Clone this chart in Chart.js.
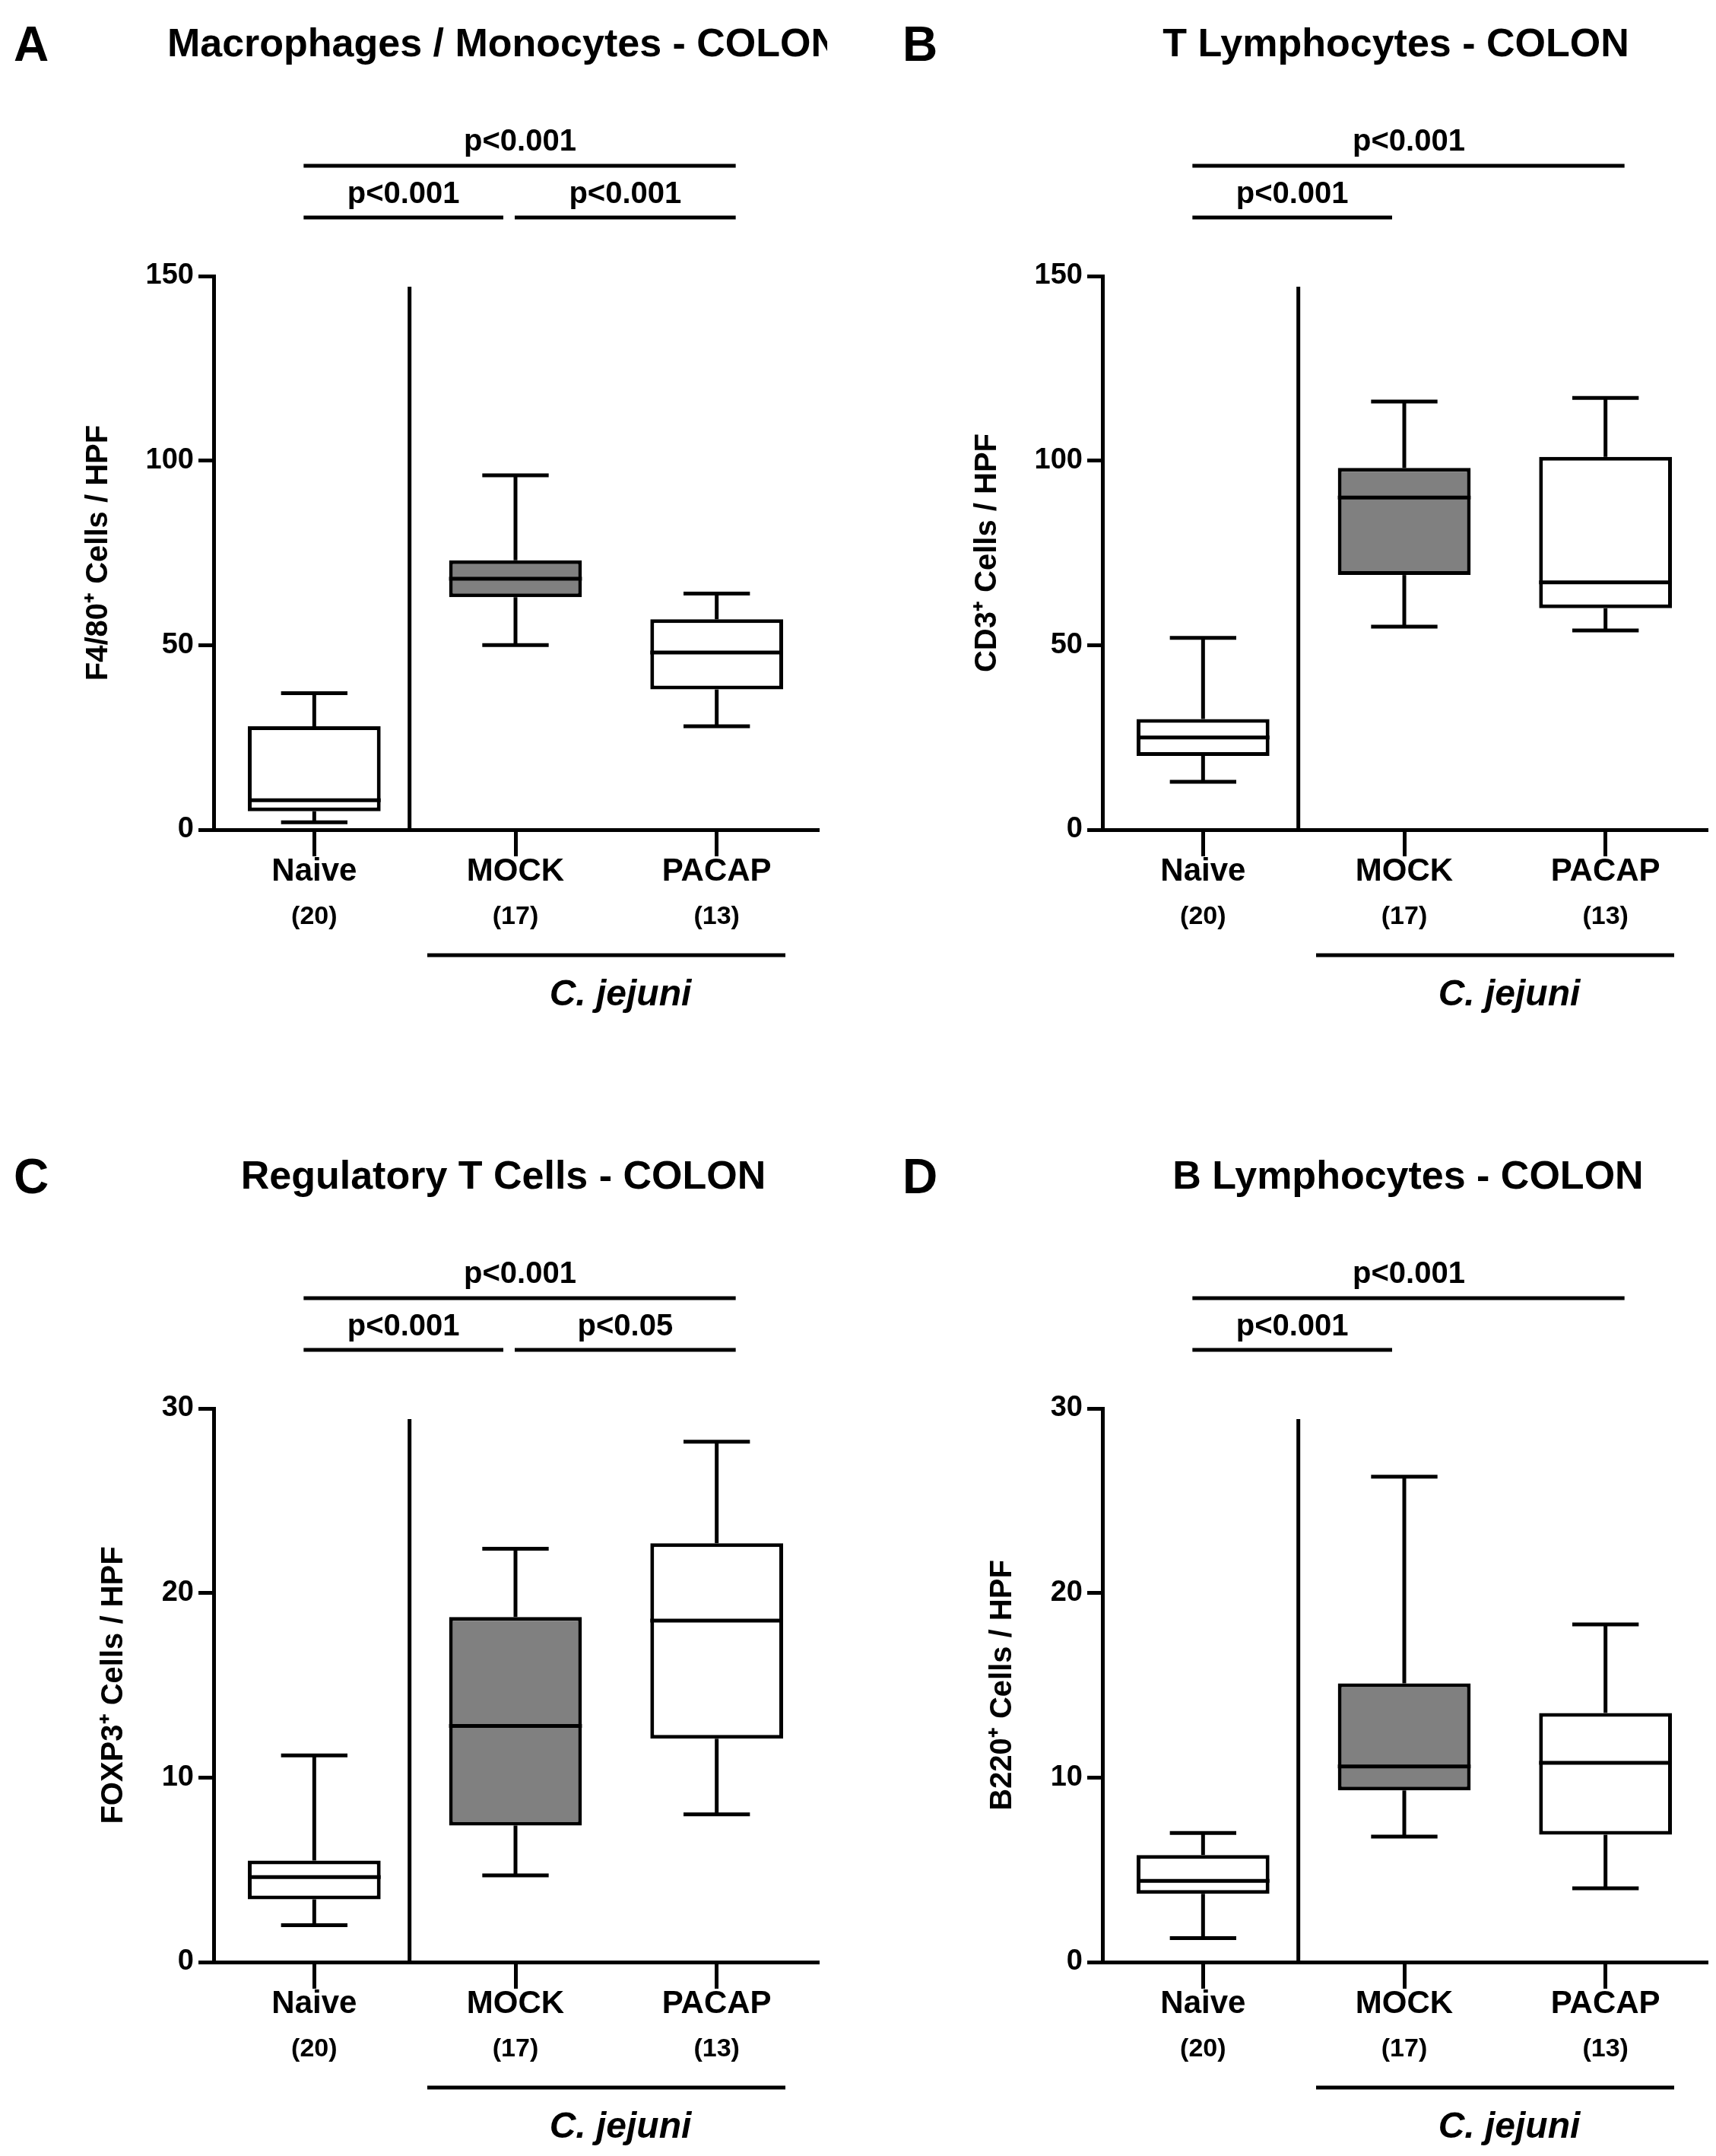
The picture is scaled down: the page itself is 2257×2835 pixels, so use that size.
<!DOCTYPE html>
<html>
<head>
<meta charset="utf-8">
<script src="https://cdn.jsdelivr.net/npm/chart.js@4.4.0/dist/chart.umd.min.js"></script>
<style>
  body { margin: 0; background: #fff; width: 2257px; height: 2835px; position: relative; overflow: hidden; }
  canvas { position: absolute; }
</style>
</head>
<body>
<canvas id="cA" width="1088" height="1340" style="left:0;top:0"></canvas>
<canvas id="cB" width="1088" height="1340" style="left:1169px;top:0"></canvas>
<canvas id="cC" width="1088" height="1340" style="left:0;top:1489px"></canvas>
<canvas id="cD" width="1088" height="1340" style="left:1169px;top:1489px"></canvas>
<script>
const groups = ['Naive', 'MOCK', 'PACAP'];
const counts = ['(20)', '(17)', '(13)'];
const fills = ['#ffffff', '#808080', '#ffffff'];

// box stats per group: [low whisker, q1, median, q3, high whisker]
const macroStats = [[2, 5, 8, 28, 37], [50, 63, 68, 73, 96], [28, 38, 48, 57, 64]];
const tcellStats = [[13, 20, 25, 30, 52], [55, 69, 90, 98, 116], [54, 60, 67, 101, 117]];
const tregStats = [[2, 3.4, 4.6, 5.5, 11.2], [4.7, 7.4, 12.8, 18.7, 22.4], [8, 12.1, 18.5, 22.7, 28.2]];
const bcellStats = [[1.3, 3.7, 4.4, 5.8, 7], [6.8, 9.3, 10.6, 15.1, 26.3], [4, 6.9, 10.8, 13.5, 18.3]];

const FONT = '"Liberation Sans", Arial, sans-serif';
const LW = 5;

const boxPlugin = {
  id: 'boxes',
  afterDatasetsDraw(chart, args, opts) {
    const ctx = chart.ctx, x = chart.scales.x, y = chart.scales.y;
    const meta = chart.getDatasetMeta(0);
    const a = chart.chartArea;
    ctx.save();
    ctx.strokeStyle = '#000';
    ctx.lineWidth = LW;
    ctx.lineCap = 'butt';
    const line = (x1, y1, x2, y2) => { ctx.beginPath(); ctx.moveTo(x1, y1); ctx.lineTo(x2, y2); ctx.stroke(); };
    opts.stats.forEach((s, i) => {
      const cx = x.getPixelForValue(i);
      const hw = meta.data[i].width / 2;
      const cap = hw * 0.5;
      line(cx, y.getPixelForValue(s[3]), cx, y.getPixelForValue(s[4]));
      line(cx, y.getPixelForValue(s[1]), cx, y.getPixelForValue(s[0]));
      line(cx - cap, y.getPixelForValue(s[4]), cx + cap, y.getPixelForValue(s[4]));
      line(cx - cap, y.getPixelForValue(s[0]), cx + cap, y.getPixelForValue(s[0]));
      line(cx - hw, y.getPixelForValue(s[2]), cx + hw, y.getPixelForValue(s[2]));
    });
    // separator between naive and infected
    const sx = (x.getPixelForValue(0) + x.getPixelForValue(1)) / 2 - 7;
    line(sx, 377, sx, a.bottom);

    ctx.fillStyle = '#000';
    ctx.textBaseline = 'middle';
    // panel letter and title
    ctx.textAlign = 'left';
    ctx.font = 'bold 64px ' + FONT;
    ctx.fillText(opts.letter, 18, 62);
    ctx.textAlign = 'center';
    ctx.font = 'bold 52px ' + FONT;
    ctx.fillText(opts.title, opts.titleX, 60);

    // significance bars
    const c0 = x.getPixelForValue(0), c1 = x.getPixelForValue(1), c2 = x.getPixelForValue(2);
    ctx.font = 'bold 40px ' + FONT;
    line(c0 - 14, 218, c2 + 25, 218);
    ctx.fillText('p<0.001', (c0 + c2) / 2 + 6, 187);
    line(c0 - 14, 286, c1 - 16, 286);
    ctx.fillText(opts.sig[0], (c0 + c1) / 2 - 15, 256);
    if (opts.sig[1]) {
      line(c1 - 1, 286, c2 + 25, 286);
      ctx.fillText(opts.sig[1], (c1 + c2) / 2 + 12, 256);
    }

    // category labels
    groups.forEach((g, i) => {
      const cx = x.getPixelForValue(i);
      ctx.font = 'bold 42px ' + FONT;
      ctx.fillText(g, cx, 1146);
      ctx.font = 'bold 34px ' + FONT;
      ctx.fillText(counts[i], cx, 1206);
    });
    line(562, 1256, 1033, 1256);
    ctx.font = 'italic bold 48px ' + FONT;
    ctx.fillText('C. jejuni', 816, 1309);

    // y axis title
    ctx.save();
    ctx.translate(opts.yTitleX, (a.top + a.bottom) / 2);
    ctx.rotate(-Math.PI / 2);
    ctx.font = 'bold 40px ' + FONT;
    ctx.fillText(opts.yTitle, 0, 0);
    ctx.restore();
    ctx.restore();
  }
};

function createBoxChart(id, stats, max, step, o) {
  const ctx = document.getElementById(id).getContext('2d');
  return new Chart(ctx, {
    type: 'bar',
    data: {
      labels: groups,
      datasets: [{
        data: stats.map(s => [s[1], s[3]]),
        backgroundColor: fills,
        borderColor: '#000',
        borderWidth: LW,
        borderSkipped: false,
        barPercentage: 0.66,
        categoryPercentage: 1,
      }],
    },
    options: {
      responsive: false,
      devicePixelRatio: 1,
      animation: false,
      layout: { padding: { left: 0, right: 13, top: 363, bottom: 0 } },
      plugins: { legend: { display: false }, tooltip: { enabled: false }, boxes: o },
      scales: {
        x: {
          ticks: { display: false },
          grid: { drawOnChartArea: false, drawTicks: true, tickLength: 35, color: '#000', lineWidth: LW, offset: false },
          border: { color: '#000', width: LW },
          afterFit: s => { s.height = 249; },
        },
        y: {
          min: 0, max: max,
          ticks: { stepSize: step, color: '#000', font: { family: FONT, size: 38, weight: 'bold' }, padding: 6 },
          grid: { drawOnChartArea: false, drawTicks: true, tickLength: 20, color: '#000', lineWidth: LW },
          border: { color: '#000', width: LW },
          afterFit: s => { s.width = 281; },
        },
      },
    },
    plugins: [boxPlugin],
  });
}

createBoxChart('cA', macroStats, 150, 50,
  { letter: 'A', title: 'Macrophages / Monocytes - COLON', titleX: 662, sig: ['p<0.001', 'p<0.001'], yTitle: 'F4/80\u207A Cells / HPF', yTitleX: 130, stats: macroStats });
createBoxChart('cB', tcellStats, 150, 50,
  { letter: 'B', title: 'T Lymphocytes - COLON', titleX: 667, sig: ['p<0.001', null], yTitle: 'CD3\u207A Cells / HPF', yTitleX: 130, stats: tcellStats });
createBoxChart('cC', tregStats, 30, 10,
  { letter: 'C', title: 'Regulatory T Cells - COLON', titleX: 662, sig: ['p<0.001', 'p<0.05'], yTitle: 'FOXP3\u207A Cells / HPF', yTitleX: 150, stats: tregStats });
createBoxChart('cD', bcellStats, 30, 10,
  { letter: 'D', title: 'B Lymphocytes - COLON', titleX: 683, sig: ['p<0.001', null], yTitle: 'B220\u207A Cells / HPF', yTitleX: 150, stats: bcellStats });
</script>
</body>
</html>
